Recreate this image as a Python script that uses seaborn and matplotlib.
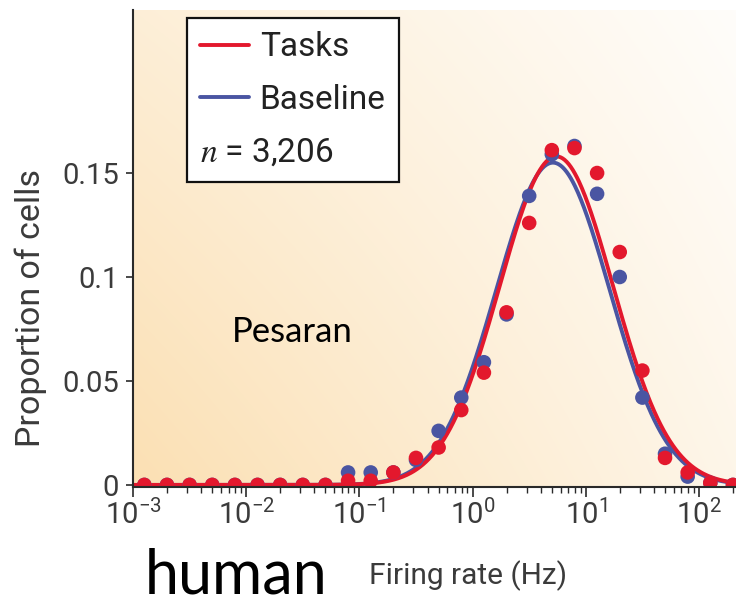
import numpy as np
import pandas as pd
import matplotlib
matplotlib.use("Agg")
import matplotlib.pyplot as plt
from matplotlib.lines import Line2D
from matplotlib.ticker import LogLocator, NullFormatter, FixedLocator, FixedFormatter
import seaborn as sns

# log10 bin centres of the firing-rate histogram (Hz)
log_rate = [-2.9, -2.7, -2.5, -2.3, -2.1, -1.9, -1.7, -1.5, -1.3, -1.1,
            -0.9, -0.7, -0.5, -0.3, -0.1, 0.1, 0.3, 0.5, 0.7, 0.9,
            1.1, 1.3, 1.5, 1.7, 1.9, 2.1, 2.3]
# proportion of cells per bin
tasks = [0, 0, 0, 0, 0, 0, 0, 0, 0, 0.002,
         0.002, 0.006, 0.013, 0.018, 0.036, 0.054, 0.083, 0.126, 0.161, 0.162,
         0.150, 0.112, 0.055, 0.013, 0.006, 0.001, 0.0]
baseline = [0, 0, 0, 0, 0, 0, 0, 0, 0, 0.006,
            0.006, 0.006, 0.012, 0.026, 0.042, 0.059, 0.082, 0.139, 0.159, 0.163,
            0.140, 0.100, 0.042, 0.015, 0.004, 0.001, 0.0]
# log-normal fits: peak height, centre (log10 Hz), width (decades)
tasks_fit = (0.158, 0.74, 0.50)
baseline_fit = (0.155, 0.71, 0.50)

series_names = ["Baseline", "Tasks"]
palette = {"Tasks": "#e3182d", "Baseline": "#4a55a2"}
n_cells = "3,206"
y_ticks = [0, 0.05, 0.1, 0.15]
y_tick_labels = ["0", "0.05", "0.1", "0.15"]

sns.set_theme(style="white")
plt.rcParams["font.family"] = ["Roboto", "DejaVu Sans"]
plt.rcParams["mathtext.fontset"] = "stix"

TEXT = "#3b3b3b"

fig = plt.figure(figsize=(7.36, 6.05), dpi=100, facecolor="white")
ax = fig.add_axes([133 / 736, 1 - 487 / 605, 1 - 133 / 736, (487 - 10) / 605])
ax.set_facecolor("none")

# warm background wash, strongest at the lower left
u = np.linspace(0, 1, 300)
v = np.linspace(0, 1, 300)
U, V = np.meshgrid(u, v)
s = (1 - U) * (1 - V) * 0.95 + (1 - U) * V * 0.5 + U * (1 - V) * 0.28 + U * V * 0.06
base = np.array([251, 222, 175]) / 255.0
img = 1 - s[..., None] * (1 - base)
ax.imshow(img, extent=[0, 1, 0, 1], origin="lower", transform=ax.transAxes,
          aspect="auto", zorder=0, interpolation="bilinear")

points = pd.DataFrame({
    "rate": np.power(10.0, log_rate * 2),
    "proportion": baseline + tasks,
    "condition": ["Baseline"] * len(log_rate) + ["Tasks"] * len(log_rate),
})

grid = np.linspace(-3.0, 2.4, 600)
fits = {"Tasks": tasks_fit, "Baseline": baseline_fit}
curves = pd.concat([
    pd.DataFrame({
        "rate": 10.0 ** grid,
        "proportion": fits[name][0] * np.exp(-0.5 * ((grid - fits[name][1]) / fits[name][2]) ** 2),
        "condition": name,
    })
    for name in series_names
])

sns.lineplot(data=curves, x="rate", y="proportion", hue="condition",
             hue_order=series_names, palette=palette, lw=2.8, legend=False,
             ax=ax, zorder=3, sort=False)
sns.scatterplot(data=points, x="rate", y="proportion", hue="condition",
                hue_order=series_names, palette=palette, s=110, linewidth=0,
                legend=False, ax=ax, zorder=4, clip_on=True)

ax.set_xscale("log")
ax.set_xlim(1e-3, 10 ** 2.327)
ax.set_ylim(-0.001, 0.2284)

ax.xaxis.set_major_locator(LogLocator(base=10, numticks=12))
ax.xaxis.set_minor_locator(LogLocator(base=10, subs=np.arange(2, 10), numticks=12))
ax.xaxis.set_minor_formatter(NullFormatter())
ax.yaxis.set_major_locator(FixedLocator(y_ticks))
ax.yaxis.set_major_formatter(FixedFormatter(y_tick_labels))

for side in ("top", "right"):
    ax.spines[side].set_visible(False)
for side in ("left", "bottom"):
    ax.spines[side].set_color("#2a2a2a")
    ax.spines[side].set_linewidth(1.5)
    ax.spines[side].set_zorder(5)

ax.tick_params(axis="x", which="major", direction="out", length=7, width=1.2,
               color="#2a2a2a", labelsize=21, labelcolor=TEXT, pad=2, bottom=True)
ax.tick_params(axis="x", which="minor", direction="out", length=4, width=1.0,
               color="#2a2a2a", bottom=True)
ax.tick_params(axis="y", which="major", direction="out", length=5, width=1.2,
               color="#2a2a2a", labelsize=21, labelcolor=TEXT, pad=5, left=True)

ax.set_xlabel("Firing rate (Hz)", fontsize=21.5, color=TEXT)
ax.set_ylabel("Proportion of cells", fontsize=24.5, color=TEXT)
ax.xaxis.set_label_coords(0.556, -0.153)
ax.yaxis.set_label_coords(-0.143, 0.375)

handles = [Line2D([], [], color=palette["Tasks"], lw=2.8),
           Line2D([], [], color=palette["Baseline"], lw=2.8)]
leg = ax.legend(handles, ["Tasks", "Baseline"], title="$n$ = " + n_cells,
                loc="upper left", bbox_to_anchor=((187 - 133) / 603, (487 - 18) / 477),
                borderaxespad=0, fontsize=24, title_fontsize=24, alignment="left",
                frameon=True, fancybox=False, framealpha=1, edgecolor="#111111",
                handlelength=1.45, handletextpad=0.33, labelspacing=0.62,
                borderpad=0.4)
leg.get_frame().set_linewidth(1.6)
for t in leg.get_texts():
    t.set_color("#222222")
leg.get_title().set_color("#222222")
# the sample-size note sits below the entries
leg._legend_box._children.reverse()
leg.set_zorder(6)

fig.text(232 / 736, 1 - 342 / 605, "Pesaran", fontsize=25, family="Lato",
         color="black", ha="left", va="baseline")
fig.text(145 / 736, 1 - 593 / 605, "human", fontsize=44, family="Lato",
         color="black", ha="left", va="baseline")

fig.savefig("out.png", dpi=100, facecolor="white")
